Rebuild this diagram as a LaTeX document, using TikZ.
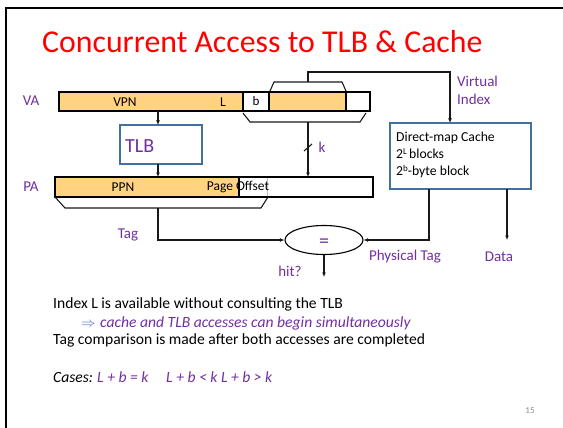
\documentclass[tikz,border=0pt]{standalone}
\usepackage{fontspec}
\setmainfont{Carlito}
\usetikzlibrary{arrows.meta,shapes.geometric}
\definecolor{purp}{HTML}{7030A0}
\definecolor{orng}{HTML}{FFD37F}
\definecolor{bluebd}{HTML}{41719C}
\definecolor{arrblue}{HTML}{4472C4}
\begin{document}
\begin{tikzpicture}[x=1pt,y=-1pt,
  seg/.style={draw=black, line width=1.1pt, inner sep=0pt, outer sep=0pt, anchor=north west, font=\fontsize{13}{13}\selectfont},
  orseg/.style={seg, fill=orng},
  whseg/.style={seg, fill=white},
  lbl/.style={text=purp, inner sep=0pt, font=\fontsize{15}{15}\selectfont},
  intxt/.style={inner sep=0pt, font=\fontsize{13.5}{13.5}\selectfont},
  conn/.style={line width=1.1pt, draw=black!90},
  arr/.style={conn, -{Latex[length=4.5pt,width=4pt]}},
  brace/.style={line width=1.1pt, draw=black!90},
  bluebox/.style={draw=bluebd, line width=1.2pt, inner sep=0pt, outer sep=0pt, anchor=north west, fill=white},
  body/.style={inner sep=0pt, anchor=base west, font=\fontsize{15.6}{15.6}\selectfont}]
\useasboundingbox (0,0) rectangle (563,428);
\fill[white] (0,0) rectangle (563,428);
% slide frame
\draw[line width=1.6pt] (6,428) -- (6,8) -- (563,8);
% title
\node[anchor=base west, inner sep=0pt, text=red, font=\fontsize{31.8}{31.8}\selectfont] (title) at (42,53) {Concurrent Access to TLB \& Cache};

% VA bar
\node[lbl] (valbl) at (31,101) {VA};
\node[orseg, minimum width=184pt, minimum height=19pt] (va1) at (59,92) {};
\node[whseg, minimum width=26pt, minimum height=19pt] (va2) at (243,92) {b};
\node[orseg, minimum width=77pt, minimum height=19pt] (va3) at (269,92) {};
\node[whseg, minimum width=24pt, minimum height=19pt] (va4) at (346,92) {};
\node[intxt] (vpn) at (125,102) {VPN};
\node[intxt] (lL) at (223,102) {L};

% top brace and virtual index
\draw[brace] (270,91) -- (274,82) -- (342,82) -- (346,91);
\coordinate (vtop) at (308,82);
\coordinate (cachein) at (450,123);
\draw[arr] (vtop) -- (308,72) -| (cachein);
\node[lbl, anchor=north west, align=left, font=\fontsize{15}{18}\selectfont] (vidx) at (457,76) {Virtual\\Index};

% bottom VA brace and k
\draw[brace] (243,113) -- (250,122) -- (360,122) -- (366,113);
\coordinate (vbot) at (308,122);
\coordinate (pain) at (308,177);
\draw[arr] (vbot) -- (pain);
\draw[conn] (304,151) -- (312,144);
\node[lbl] (klbl) at (322,147) {k};

% TLB
\node[bluebox, minimum width=82pt, minimum height=39pt] (tlb) at (120,125) {};
\node[lbl, anchor=west, font=\fontsize{20}{20}\selectfont] (tlbtxt) at (125,146) {TLB};
\coordinate (vpnout) at (158,111);
\draw[arr] (vpnout) -- (tlb.north -| vpnout);
\coordinate (tlbout) at (158,164);
\coordinate (ppnin) at (158,177);
\draw[arr] (tlbout) -- (ppnin);

% PA bar
\node[lbl] (palbl) at (31,187) {PA};
\node[orseg, minimum width=184pt, minimum height=20pt] (pa1) at (55,177) {};
\node[whseg, minimum width=134pt, minimum height=20pt] (pa2) at (239,177) {};
\draw[black!25, line width=0.6pt] (267,178) -- (267,196);
\node[intxt] (ppn) at (123,187) {PPN};
\node[intxt] (poff) at (238,187) {Page Offset};

% PA brace, tag path
\draw[brace] (55,197) -- (65,208) -- (261,208) -- (268,197);
\coordinate (pbot) at (158,208);
\node[draw=black, line width=1.1pt, ellipse, minimum width=78pt, minimum height=29pt, inner sep=0pt] (eq) at (324,240) {};
\node[lbl, font=\fontsize{20}{20}\selectfont] (eqsign) at (324,243) {=};
\draw[arr] (pbot) |- (eq.west);
\node[lbl] (taglbl) at (128,235) {Tag};
\coordinate (hitend) at (324,277);
\draw[arr] (eq.south) -- (hitend);
\node[lbl] (hit) at (290,271) {hit?};

% Cache box
\node[bluebox, minimum width=141pt, minimum height=66pt] (cache) at (390,123) {};
\node[inner sep=0pt, anchor=north west, align=left, font=\fontsize{13.7}{17}\selectfont] (cachetxt) at (396,132) {Direct-map Cache\\2{\fontsize{9}{9}\selectfont\raisebox{0.45em}{L}}\,blocks\\2{\fontsize{9}{9}\selectfont\raisebox{0.45em}{b}}-byte block};
\coordinate (ptagout) at (429,189);
\draw[arr] (ptagout) |- (eq.east);
\node[lbl] (ptag) at (405,257) {Physical Tag};
\coordinate (dataout) at (507,189);
\coordinate (dataend) at (507,240);
\draw[arr] (dataout) -- (dataend);
\node[lbl] (data) at (499,257) {Data};

% body text
\node[body] (t1) at (53,308) {Index L is available without consulting the TLB};
\node[body, text=arrblue] (t2a) at (81,327) {$\Rightarrow$};
\node[body, text=purp] (t2) at (100,327) {\itshape cache and TLB accesses can begin simultaneously};
\node[body] (t3) at (53,344) {Tag comparison is made after both accesses are completed};
\node[body] (c0) at (53,382) {\itshape Cases:};
\node[body, text=purp] (c1) at (97,382) {\itshape L + b = k};
\node[body, text=purp] (c2) at (166,382) {\itshape L + b {\char`\<} k L + b {\char`\>} k};
\node[inner sep=0pt, text=black!45, font=\fontsize{9}{9}\selectfont] (pgnum) at (530,411) {15};
\end{tikzpicture}
\end{document}
